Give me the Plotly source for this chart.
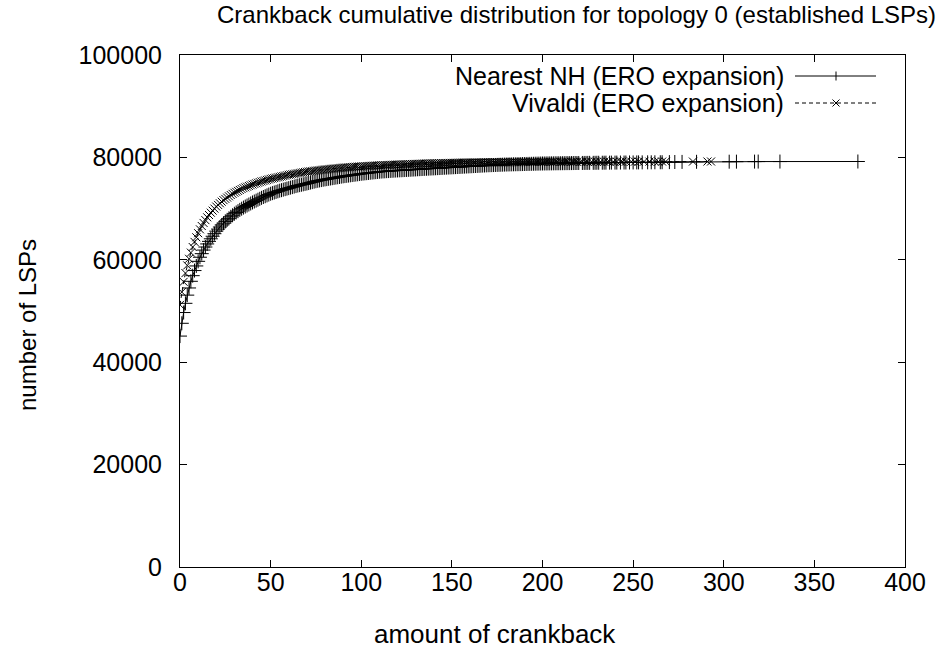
import plotly.graph_objects as go

# Crankback amounts (x) and cumulative number of established LSPs (y)
nh_x = list(range(0, 201)) + [
    201, 202, 203, 204, 205, 206, 207, 208, 209, 210, 211, 212, 213, 214, 215,
    216, 217, 218, 219, 220, 222, 223, 224, 225, 226, 228, 229, 230, 231, 233,
    234, 235, 237, 238, 240, 241, 243, 245, 246, 248, 250, 252, 253, 255, 258,
    260, 262, 265, 266, 270, 273, 277, 285, 303, 307, 317, 319, 331, 374]
nh_y = [
    45100, 47600, 49700, 51500, 53100, 54500, 55800, 56900, 57900, 58800,
    59700, 60500, 61200, 61900, 62500, 63100, 63600, 64100, 64600, 65100,
    65600, 66000, 66400, 66800, 67150, 67500, 67800, 68100, 68400, 68700,
    69000, 69250, 69500, 69750, 69980, 70200, 70400, 70600, 70800, 71000,
    71200, 71380, 71560, 71740, 71920, 72100, 72260, 72420, 72580, 72740,
    72900, 73020, 73140, 73260, 73380, 73500, 73600, 73700, 73800, 73900,
    74000, 74100, 74200, 74300, 74400, 74500, 74580, 74660, 74740, 74820,
    74900, 74990, 75080, 75170, 75260, 75350, 75430, 75500, 75570, 75640,
    75700, 75760, 75820, 75880, 75940, 76000, 76060, 76120, 76180, 76240,
    76300, 76350, 76400, 76450, 76500, 76550, 76600, 76650, 76700, 76750,
    76800, 76840, 76880, 76920, 76960, 77000, 77040, 77080, 77120, 77160,
    77200, 77230, 77260, 77280, 77310, 77330, 77360, 77380, 77410, 77430,
    77450, 77470, 77490, 77510, 77530, 77550, 77570, 77590, 77610, 77630,
    77650, 77680, 77700, 77720, 77740, 77760, 77780, 77800, 77820, 77840,
    77860, 77880, 77900, 77920, 77940, 77960, 77980, 78000, 78020, 78040,
    78060, 78080, 78100, 78120, 78140, 78160, 78180, 78200, 78220, 78240,
    78260, 78280, 78300, 78320, 78340, 78360, 78380, 78400, 78420, 78440,
    78460, 78475, 78490, 78505, 78520, 78535, 78550, 78565, 78580, 78595,
    78610, 78620, 78630, 78640, 78650, 78660, 78670, 78680, 78690, 78700,
    78710, 78720, 78730, 78740, 78750, 78760, 78770, 78780, 78790, 78800,
    78810,
    78815, 78820, 78825, 78830, 78835, 78840, 78845, 78850, 78855, 78860,
    78865, 78870, 78875, 78880, 78885, 78890, 78895, 78900, 78905, 78910,
    78915, 78920, 78925, 78930, 78935, 78940, 78945, 78950, 78955, 78960,
    78965, 78970, 78975, 78980, 78985, 78990, 78995, 79000, 79005, 79010,
    79015, 79020, 79025, 79030, 79035, 79040, 79045, 79050,
    79060, 79080, 79100, 79120, 79140, 79160, 79170, 79180, 79185, 79190, 79200]

viv_x = list(range(0, 201)) + [
    201, 202, 203, 204, 205, 206, 207, 208, 210, 211, 212, 213, 214, 216, 217,
    218, 219, 221, 222, 224, 225, 227, 229, 230, 232, 234, 236, 237, 239, 241,
    243, 244, 246, 249, 251, 253, 256, 259, 262, 264, 266, 268, 283, 291, 293]
viv_y = [
    51200, 53700, 55700, 57400, 58900, 60200, 61400, 62500, 63500, 64400,
    65200, 65950, 66600, 67200, 67750, 68300, 68750, 69200, 69600, 70000,
    70400, 70720, 71040, 71350, 71650, 71900, 72150, 72400, 72650, 72880,
    73100, 73280, 73460, 73640, 73820, 74000, 74140, 74280, 74420, 74560,
    74700, 74820, 74940, 75060, 75180, 75300, 75400, 75500, 75600, 75700,
    75800, 75880, 75960, 76040, 76120, 76200, 76280, 76360, 76440, 76520,
    76600, 76660, 76720, 76780, 76840, 76900, 76960, 77020, 77080, 77140,
    77200, 77245, 77290, 77335, 77380, 77425, 77470, 77515, 77560, 77605,
    77650, 77685, 77720, 77755, 77790, 77825, 77860, 77895, 77930, 77965,
    78000, 78025, 78050, 78075, 78100, 78125, 78150, 78175, 78200, 78225,
    78250, 78270, 78290, 78310, 78330, 78350, 78370, 78390, 78410, 78430,
    78450, 78465, 78480, 78495, 78510, 78525, 78540, 78555, 78570, 78585,
    78600, 78610, 78625, 78640, 78650, 78665, 78680, 78690, 78705, 78720,
    78730, 78745, 78760, 78770, 78785, 78800, 78810, 78820, 78830, 78840,
    78850, 78860, 78870, 78878, 78885, 78893, 78900, 78910, 78918, 78925,
    78933, 78940, 78948, 78955, 78963, 78970, 78977, 78983, 78990, 78995,
    79000, 79003, 79006, 79009, 79012, 79015, 79018, 79021, 79024, 79027,
    79030, 79033, 79036, 79039, 79042, 79045, 79048, 79051, 79054, 79057,
    79060, 79063, 79066, 79069, 79072, 79075, 79078, 79081, 79084, 79087,
    79090, 79093, 79096, 79099, 79102, 79105, 79108, 79111, 79114, 79117,
    79120,
    79121, 79122, 79123, 79124, 79125, 79126, 79127, 79128, 79130, 79131,
    79132, 79133, 79134, 79136, 79137, 79138, 79139, 79141, 79142, 79144,
    79145, 79147, 79149, 79150, 79152, 79154, 79156, 79157, 79159, 79161,
    79163, 79164, 79166, 79168, 79170, 79172, 79174, 79176, 79178, 79180,
    79182, 79185, 79190, 79195, 79200]

series_names = ["Nearest NH (ERO expansion)", "Vivaldi (ERO expansion)"]
x_ticks = [0, 50, 100, 150, 200, 250, 300, 350, 400]
y_ticks = [0, 20000, 40000, 60000, 80000, 100000]

FONT = "Liberation Sans, Arial, Helvetica, sans-serif"
TICK_FS = 25
LABEL_FS = 26
KEY_FS = 25
TITLE_FS = 24

fig = go.Figure()
fig.add_trace(go.Scatter(
    x=nh_x, y=nh_y, mode="lines+markers", name=series_names[0],
    line=dict(color="black", width=1),
    marker=dict(symbol="cross-thin", size=10, color="black",
                line=dict(color="black", width=1)),
    showlegend=False))
fig.add_trace(go.Scatter(
    x=viv_x, y=viv_y, mode="lines+markers", name=series_names[1],
    line=dict(color="black", width=1, dash="4px,3px"),
    marker=dict(symbol="x-thin", size=8, color="black",
                line=dict(color="black", width=1)),
    showlegend=False))

axis_common = dict(
    showline=True, linecolor="black", linewidth=1, mirror="allticks",
    ticks="inside", ticklen=7, tickcolor="black", tickwidth=1,
    showgrid=False, zeroline=False,
    tickfont=dict(family=FONT, size=TICK_FS, color="black"),
)
fig.update_xaxes(range=[0, 400], tickvals=x_ticks, tickformat="d",
                 ticklabelstandoff=-7, **axis_common)
fig.update_yaxes(range=[0, 100000], tickvals=y_ticks, tickformat="d",
                 ticklabelstandoff=12, **axis_common)

W, H = 945, 648
L, R, T, B = 180, 40, 55, 81
pw, ph = W - L - R, H - T - B


def px(xp):
    return (xp - L) / pw


def py(yp):
    return (H - B - yp) / ph


annotations = [
    dict(text="Crankback cumulative distribution for topology 0 (established LSPs)",
         x=px(576), y=py(14), xanchor="center", yanchor="middle",
         font=dict(family=FONT, size=TITLE_FS, color="black")),
    dict(text="amount of crankback", x=px(495), y=py(634),
         xanchor="center", yanchor="middle",
         font=dict(family=FONT, size=LABEL_FS, color="black")),
    dict(text="number of LSPs", x=px(27), y=py(325), textangle=-90,
         xanchor="center", yanchor="middle",
         font=dict(family=FONT, size=TITLE_FS, color="black")),
]
# key entries: text right-aligned left of the sample line
key_rows = [76, 103]
for name, yr in zip(series_names, key_rows):
    annotations.append(dict(text=name, x=px(786), y=py(yr),
                            xanchor="right", yanchor="middle",
                            font=dict(family=FONT, size=KEY_FS, color="black")))
for a in annotations:
    a.update(xref="paper", yref="paper", showarrow=False)

shapes = []
# sample line for first key entry (solid, with +)
shapes.append(dict(type="line", xref="paper", yref="paper",
                   x0=px(795), x1=px(876), y0=py(key_rows[0]), y1=py(key_rows[0]),
                   line=dict(color="black", width=1)))
cx, cy = 836, key_rows[0]
shapes.append(dict(type="line", xref="paper", yref="paper",
                   x0=px(cx), x1=px(cx), y0=py(cy - 4.5), y1=py(cy + 4.5),
                   line=dict(color="black", width=1)))
# sample line for second key entry (dashed, with x)
shapes.append(dict(type="line", xref="paper", yref="paper",
                   x0=px(795), x1=px(876), y0=py(key_rows[1]), y1=py(key_rows[1]),
                   line=dict(color="black", width=1, dash="4px,3px")))
cx, cy = 836, key_rows[1]
for dx in (-1, 1):
    shapes.append(dict(type="line", xref="paper", yref="paper",
                       x0=px(cx - 3.5), x1=px(cx + 3.5),
                       y0=py(cy - 3.5 * dx), y1=py(cy + 3.5 * dx),
                       line=dict(color="black", width=1)))

fig.update_layout(
    width=W, height=H, autosize=False,
    margin=dict(l=L, r=R, t=T, b=B, pad=0),
    paper_bgcolor="white", plot_bgcolor="white",
    font=dict(family=FONT, size=TICK_FS, color="black"),
    annotations=annotations, shapes=shapes,
)

fig.write_html("out.html")
